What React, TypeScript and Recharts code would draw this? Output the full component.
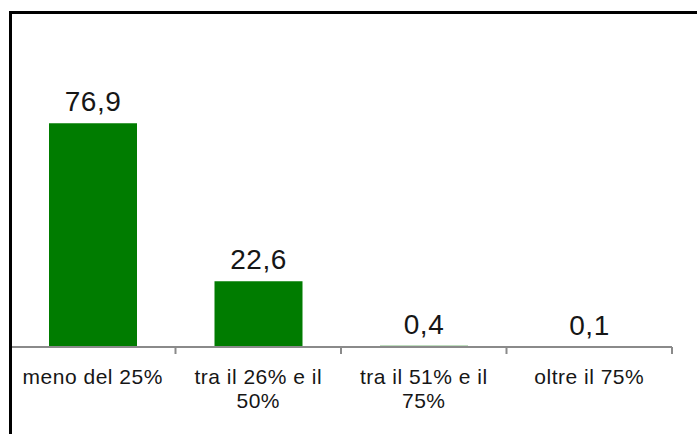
import React from "react";
import { BarChart, Bar, XAxis, YAxis, LabelList } from "recharts";

const categories = ["meno del 25%", "tra il 26% e il 50%", "tra il 51% e il 75%", "oltre il 75%"];
const categoryLines = [["meno del 25%"], ["tra il 26% e il", "50%"], ["tra il 51% e il", "75%"], ["oltre il 75%"]];
const values = [76.9, 22.6, 0.4, 0.1];
const boundaryTicks = [0, 1, 2, 3, 4];

const data = categories.map((c, i) => ({ name: c, value: values[i] }));

const FONT = "'Liberation Sans', Arial, sans-serif";

const CategoryTick = (props: any) => {
  const { x, y, index } = props;
  const lines = categoryLines[index] || [];
  return (
    <g>
      {lines.map((ln, i) => (
        <text
          key={i}
          x={x}
          y={y + 36 + i * 24}
          textAnchor="middle"
          fontSize={21}
          fontFamily={FONT}
          fill="#161616"
          style={{ letterSpacing: "0.5px" }}
        >
          {ln}
        </text>
      ))}
    </g>
  );
};

const EmptyTick = () => <g />;

export default function App() {
  return (
    <div style={{ position: "absolute", left: 0, top: 0, width: 697, height: 434, overflow: "hidden", background: "#fff" }}>
      <BarChart
        width={697}
        height={434}
        data={data}
        margin={{ top: 56, right: 25, left: 10, bottom: 27 }}
      >
        <XAxis
          xAxisId="b"
          type="number"
          dataKey="value"
          domain={[0, 4]}
          ticks={boundaryTicks}
          allowDataOverflow
          height={1}
          interval={0}
          tick={<EmptyTick />}
          tickSize={7}
          axisLine={{ stroke: "#8a8a8a", strokeWidth: 2 }}
          tickLine={{ stroke: "#8a8a8a", strokeWidth: 2 }}
        />
        <XAxis
          xAxisId="cat"
          dataKey="name"
          height={59}
          axisLine={false}
          tickLine={false}
          tickSize={0}
          tickMargin={0}
          interval={0}
          tick={<CategoryTick />}
        />
        <YAxis hide domain={[0, 100]} />
        <Bar xAxisId="cat" dataKey="value" fill="#007c00" barSize={88} isAnimationActive={false}>
          <LabelList
            dataKey="value"
            position="top"
            offset={12}
            formatter={(v: any) => String(v).replace(".", ",")}
            style={{ fontSize: 28, fontFamily: FONT, fill: "#161616", letterSpacing: "0.5px" }}
          />
        </Bar>
      </BarChart>
      <div
        style={{
          position: "absolute",
          left: 9,
          top: 11,
          width: 800,
          height: 600,
          borderLeft: "3px solid #000",
          borderTop: "3px solid #000",
          pointerEvents: "none",
        }}
      />
    </div>
  );
}
